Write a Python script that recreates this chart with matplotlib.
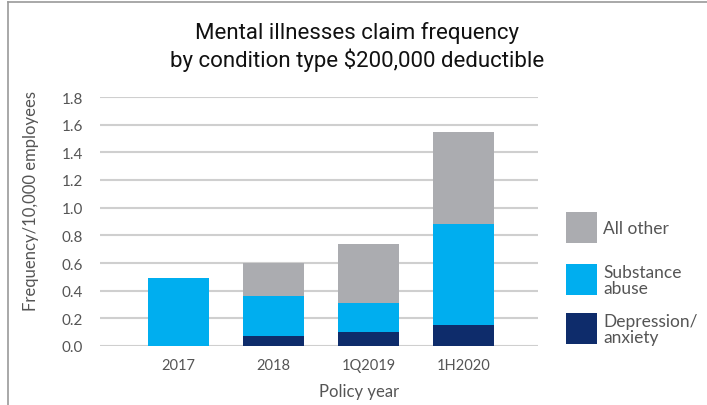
import matplotlib
matplotlib.use("Agg")
import matplotlib.pyplot as plt
from matplotlib.patches import Rectangle
from matplotlib.lines import Line2D

title_font = "Roboto"
body_font = "Lato"

categories = ["2017", "2018", "1Q2019", "1H2020"]
depression = [0.0, 0.07, 0.10, 0.155]
substance = [0.49, 0.29, 0.21, 0.725]
all_other = [0.0, 0.24, 0.43, 0.67]
yticks = [0.0, 0.2, 0.4, 0.6, 0.8, 1.0, 1.2, 1.4, 1.6, 1.8]
legend_labels = ["All other", "Substance\nabuse", "Depression/\nanxiety"]

c_dep = "#0E2C6B"
c_sub = "#00AEEF"
c_oth = "#ABACB0"
legend_colors = [c_oth, c_sub, c_dep]

fig = plt.figure(figsize=(7.07, 4.06), dpi=100)
ax = fig.add_axes([100/707, (406-347)/406, 438/707, 249/406])

x = list(range(len(categories)))
w = 0.64
ax.bar(x, depression, w, color=c_dep, zorder=3)
ax.bar(x, substance, w, bottom=depression, color=c_sub, zorder=3)
bot2 = [a + b for a, b in zip(depression, substance)]
ax.bar(x, all_other, w, bottom=bot2, color=c_oth, zorder=3)

ax.set_ylim(0, 1.8)
ax.set_xlim(-0.826, 3.785)
ax.set_yticks(yticks)
ax.set_yticklabels([f"{v:.1f}" for v in yticks], fontfamily=body_font, fontsize=11, color="#555555")
ax.set_xticks(x)
ax.set_xticklabels(categories, fontfamily=body_font, fontsize=10.5, color="#555555")
ax.tick_params(axis="both", length=0)
ax.tick_params(axis="y", pad=12)
ax.tick_params(axis="x", pad=9)
for s in ax.spines.values():
    s.set_visible(False)
ax.grid(axis="y", color="#CFCFCF", linewidth=1.5, zorder=0)
ax.set_axisbelow(True)

ax.set_xlabel("Policy year", fontfamily=body_font, fontsize=12, color="#555555")
ax.xaxis.set_label_coords((359-100)/438, -(392-347)/249)
ax.xaxis.label.set_va("center")
ax.set_ylabel("Frequency/10,000 employees", fontfamily=body_font, fontsize=12, color="#555555")
ax.yaxis.set_label_coords(-(100-31)/438, (347-201)/249)
ax.yaxis.label.set_va("center")

fig.text(357/707, 1 - 33/406, "Mental illnesses claim frequency", ha="center", va="center",
         fontfamily=title_font, fontsize=16, color="#111111")
fig.text(357/707, 1 - 60/406, "by condition type $200,000 deductible", ha="center", va="center",
         fontfamily=title_font, fontsize=16, color="#111111")

# legend drawn as patches + text in figure pixels
leg_tops = [213, 265, 314]
for top, col, lab in zip(leg_tops, legend_colors, legend_labels):
    fig.patches.append(Rectangle((566/707, 1 - (top + 31)/406), 31/707, 31/406,
                                 transform=fig.transFigure, facecolor=col, edgecolor="none"))
    fig.text(603/707, 1 - (top + 16)/406, lab, ha="left", va="center", fontfamily=body_font,
             fontsize=12.5, color="#555555", linespacing=1.05)

# outer frame lines (top and left)
fig.add_artist(Line2D([8/707, 1], [1 - 3/406, 1 - 3/406], transform=fig.transFigure, color="#9a9a9a", linewidth=1.2))
fig.add_artist(Line2D([8/707, 8/707], [0, 1 - 3/406], transform=fig.transFigure, color="#9a9a9a", linewidth=1.2))

fig.savefig("out.png", dpi=100)
